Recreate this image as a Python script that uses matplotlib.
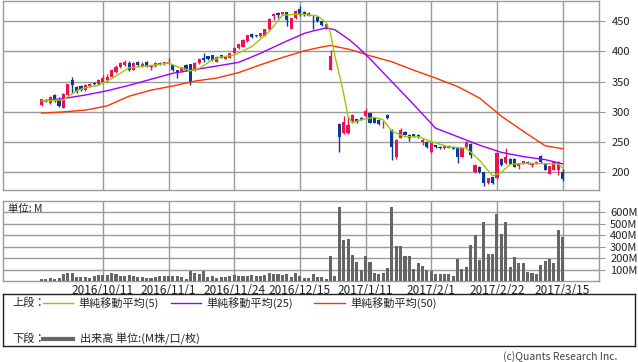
import matplotlib
matplotlib.use("Agg")
import matplotlib.pyplot as plt
import numpy as np

plt.rcParams['font.family'] = ['Noto Sans CJK JP', 'DejaVu Sans']

# ---------------- data ----------------
opens  = [312,319,315,328,320,307,328,353,341,343,336,343,348,346,349,352,358,366,374,378,
          381,370,382,376,383,374,376,381,379,380,377,369,368,377,379,369,381,389,392,394,
          383,394,388,390,398,405,408,417,429,427,425,426,437,459,463,462,465,438,455,470,
          466,459,460,457,450,438,370,311,280,265,265,283,288,290,293,298,290,287,281,295,
          270,226,257,267,262,263,262,250,250,233,245,242,240,243,242,240,226,242,247,200,
          209,200,182,192,190,222,215,222,222,211,215,217,212,215,227,215,198,204,204,200]
highs  = [322,321,326,329,324,331,347,357,343,344,346,348,350,355,361,362,371,377,382,386,
          384,382,384,382,384,377,382,382,383,390,378,370,375,379,380,382,389,398,393,395,
          392,395,392,398,407,413,420,428,430,428,431,438,455,463,465,466,466,456,468,476,
          467,465,461,458,451,446,403,311,281,293,292,296,289,291,306,299,291,288,285,296,
          271,255,273,268,264,264,263,256,251,249,246,243,244,245,243,241,241,251,248,213,
          210,201,191,193,233,223,240,223,223,216,219,218,216,218,229,216,211,218,219,205]
lows   = [310,317,313,317,308,306,326,331,331,335,335,342,345,345,348,350,357,365,373,376,
          368,369,376,375,375,370,375,377,378,379,368,356,366,368,345,367,380,382,386,385,
          382,389,387,389,397,404,407,416,423,424,424,425,436,452,456,461,442,437,454,459,
          459,458,438,449,443,437,369,311,234,264,264,282,282,286,292,281,281,279,274,289,
          220,222,256,261,252,258,257,245,241,232,241,239,239,240,238,216,225,241,224,199,
          199,178,181,181,189,211,214,213,208,205,214,213,208,214,216,203,197,203,196,186]
closes = [321,318,325,318,310,330,346,345,333,337,345,346,346,352,356,357,370,375,381,382,
          369,381,377,380,376,376,381,378,382,383,369,364,374,369,350,381,387,386,387,386,
          391,390,391,397,406,412,419,427,424,426,430,437,454,462,461,465,452,455,467,460,
          460,464,459,450,444,445,393,311,259,283,279,295,283,287,301,282,282,280,282,290,
          242,254,270,262,257,259,258,254,242,248,242,240,243,241,239,226,240,250,229,212,
          200,183,190,182,232,212,225,214,209,215,218,214,215,217,217,204,210,217,217,189]

volume = [20,15,23,17,23,58,72,67,38,35,35,29,41,49,49,52,67,58,43,46,
          52,41,38,35,29,29,32,43,46,43,41,41,35,17,84,67,64,84,35,41,
          26,35,35,43,52,46,46,43,49,43,46,52,72,61,58,49,61,32,66,45,
          29,23,58,32,32,14,215,41,643,354,362,223,162,96,215,165,67,61,70,110,
          643,301,301,215,215,101,154,128,99,84,58,58,58,58,41,194,101,119,310,397,
          180,510,232,232,580,406,510,119,206,154,154,78,67,58,136,171,194,157,441,383]

ma5_day  = [0,5,8,10,13,16,20,24,29,31,34,36,39,41,44,48,52,55,59,63,65,66,67,68,69,70,71,
            73,76,78,80,83,86,89,93,97,100,103,105,107,111,115,118,119]
ma5_val  = [318,320,335,340,344,355,373,376,381,375,368,372,386,391,394,408,433,460,462,459,
            448,430,392,362,330,292,282,287,291,287,268,259,259,251,242,240,220,194,200,213,
            215,214,214,207]
ma25_day = [0,5,10,15,20,25,30,35,40,45,50,55,60,62,65,67,70,72,75,80,85,90,95,100,105,110,115,119]
ma25_val = [318,322,328,335,344,354,364,370,376,382,397,414,430,434,439,436,421,409,388,350,
            312,273,259,245,233,226,221,214]
ma50_day = [0,5,10,15,20,25,30,35,40,45,50,55,60,63,66,70,72,75,80,85,90,95,100,105,110,115,119]
ma50_val = [298,300,303,310,326,336,343,351,356,365,378,390,401,406,410,404,400,393,383,369,
            356,342,323,293,268,244,239]

tick_day   = [14,29,44,59,74,89,104,119]
tick_label = ["2016/10/11","2016/11/1","2016/11/24","2016/12/15",
              "2017/1/11","2017/2/1","2017/2/22","2017/3/15"]
price_ticks = [200,250,300,350,400,450]
vol_ticks = [100,200,300,400,500,600]
vol_labels = ["100M","200M","300M","400M","500M","600M"]

# ---------------- style ----------------
RED = "#f0114f"
BLUE = "#0a3a99"
GRID = "#9a9a9a"
C5 = "#99cc00"
C25 = "#9900ff"
C50 = "#ff3300"
VOL = "#666666"

W, H = 638, 362
fig = plt.figure(figsize=(W/100, H/100), dpi=100)
fig.patch.set_facecolor("white")

def ax_rect(l, t, r, b):
    return [l/W, 1-b/H, (r-l)/W, (b-t)/H]

xlim = (-8.8, 127.3)

# ---------------- price panel ----------------
ax = fig.add_axes(ax_rect(3, 1, 599, 190))
ax.set_xlim(*xlim)
ax.set_ylim(170.7, 483.6)
days = np.arange(len(closes))
o = np.array(opens); c = np.array(closes); h = np.array(highs); l = np.array(lows)
up = c >= o
cols = np.where(up, RED, BLUE)
ax.vlines(days, l, h, colors=cols, linewidth=1, zorder=3)
bottom = np.minimum(o, c)
height = np.maximum(np.abs(c - o), 0.8)
ax.bar(days, height, bottom=bottom, width=0.72, color=cols, linewidth=0, zorder=4)

ax.plot(ma50_day, ma50_val, color=C50, lw=1, zorder=5)
ax.plot(ma25_day, ma25_val, color=C25, lw=1, zorder=5)
ax.plot(ma5_day, ma5_val, color=C5, lw=1, zorder=6)

ax.set_yticks(price_ticks)
ax.set_yticklabels([str(t) for t in price_ticks])
ax.yaxis.tick_right()
ax.set_xticks(tick_day)
ax.set_xticklabels([])
ax.tick_params(axis='x', length=0)
ax.tick_params(axis='y', length=4, color=GRID, pad=5, labelsize=8, labelcolor="#222222")
ax.grid(True, color=GRID, lw=1, zorder=1)
ax.set_axisbelow(True)
for s in ax.spines.values():
    s.set_color(GRID)
    s.set_linewidth(1)

# ---------------- volume panel ----------------
av = fig.add_axes(ax_rect(3, 201, 599, 281))
av.set_xlim(*xlim)
av.set_ylim(0, 696)
av.bar(days, volume, width=0.7, color=VOL, linewidth=0, zorder=3)
av.set_yticks(vol_ticks)
av.set_yticklabels(vol_labels)
av.yaxis.tick_right()
av.set_xticks(tick_day)
av.set_xticklabels(tick_label)
av.tick_params(axis='x', length=0, pad=2, labelsize=8.5, labelcolor="#222222")
av.tick_params(axis='y', length=4, color=GRID, pad=4, labelsize=8, labelcolor="#222222")
av.grid(True, color=GRID, lw=1, zorder=1)
av.set_axisbelow(True)
for s in av.spines.values():
    s.set_color(GRID)
    s.set_linewidth(1)
av.text(5/596, 0.9, "単位: M", transform=av.transAxes, fontsize=7.5,
        ha="left", va="center", color="#222222")

# ---------------- legend box ----------------
lg = fig.add_axes(ax_rect(3, 294, 635, 346))
lg.set_xlim(3, 635)
lg.set_ylim(346, 294)
lg.set_xticks([]); lg.set_yticks([])
for s in lg.spines.values():
    s.set_color("#222222")
    s.set_linewidth(1)
fs = 8
lg.text(12, 303, "上段：", fontsize=fs, va="center", ha="left", color="#222222")
lg.plot([43, 73], [303, 303], color=C5, lw=1)
lg.text(78, 303, "単純移動平均(5)", fontsize=fs, va="center", ha="left", color="#222222")
lg.plot([171, 201], [303, 303], color=C25, lw=1)
lg.text(206, 303, "単純移動平均(25)", fontsize=fs, va="center", ha="left", color="#222222")
lg.plot([314, 345], [303, 303], color=C50, lw=1)
lg.text(350, 303, "単純移動平均(50)", fontsize=fs, va="center", ha="left", color="#222222")
lg.text(12, 339, "下段：", fontsize=fs, va="center", ha="left", color="#222222")
lg.plot([43, 73], [339, 339], color=VOL, lw=3)
lg.text(80, 339, "出来高 単位:(M株/口/枚)", fontsize=fs, va="center", ha="left", color="#222222")

fig.text(617/W, 1-357/H, "(c)Quants Research Inc.", fontsize=7.5, ha="right", va="center",
         color="#444444")

fig.savefig("out.png", dpi=100, facecolor="white")
